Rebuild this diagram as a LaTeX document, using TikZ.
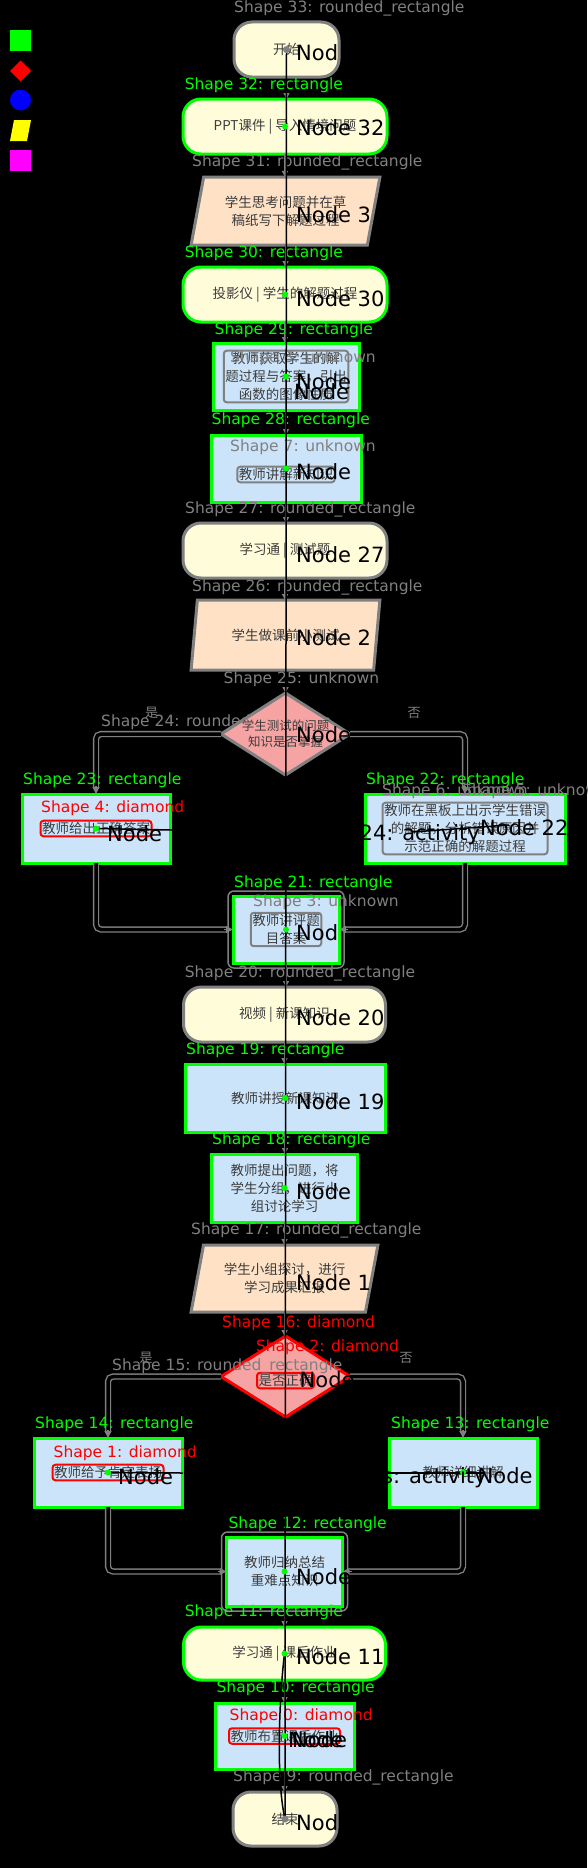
\documentclass[tikz,border=0pt]{standalone}
\usepackage{fontspec}
\setmainfont{DejaVu Sans}
\newfontfamily\cjk{Noto Sans CJK SC}
\usetikzlibrary{shapes.geometric,arrows.meta}
\definecolor{cream}{HTML}{FFFCDA}
\definecolor{lblue}{HTML}{CCE4FA}
\definecolor{peach}{HTML}{FFE2C6}
\definecolor{pinkf}{HTML}{F5A3A3}
\definecolor{lgreen}{HTML}{00FF00}
\definecolor{lred}{HTML}{FF0000}
\definecolor{lgray}{HTML}{808080}
\definecolor{txt}{HTML}{3C3C3C}
\definecolor{lblueb}{HTML}{0000FF}
\definecolor{lyel}{HTML}{FFFF00}
\definecolor{lmag}{HTML}{FF00FF}
\tikzset{
  base/.style={inner sep=0pt, outer sep=0pt, line width=3pt, font=\cjk\fontsize{13.5}{18}\selectfont, text=txt, align=center},
  rrg/.style={base, rectangle, rounded corners=18pt, fill=cream, draw=lgray},
  rrgreen/.style={base, rectangle, rounded corners=18pt, fill=cream, draw=lgreen},
  bx/.style={base, rectangle, fill=lblue, draw=lgreen},
  para/.style={base, trapezium, trapezium left angle=73, trapezium right angle=107, trapezium stretches=true, fill=peach, draw=lgray},
  dia/.style={base, diamond, fill=pinkf, draw=lgray},
  ttext/.style={base, draw=none, fill=none},
  redbox/.style={ttext, draw=lred, line width=2pt, rounded corners=3pt, inner sep=1.5pt},
  graybox/.style={ttext, draw=lgray, line width=2pt, rounded corners=3pt, inner sep=1.5pt},
  lab/.style={font=\fontsize{15.5}{16}\selectfont, anchor=west, inner sep=0pt},
  glab/.style={lab, text=lgray},
  gnlab/.style={lab, text=lgreen},
  rlab/.style={lab, text=lred},
  nlab/.style={font=\fontsize{21}{21}\selectfont, text=black, anchor=west, inner sep=0pt},
  yn/.style={font=\cjk\fontsize{13}{13}\selectfont, text=lgray, inner sep=0pt},
  flow/.style={draw=lgray, line width=1.5pt, -{Triangle[length=6pt,width=6pt]}},
  branch/.style={draw=lgray, double=black, double distance=3.5pt, line width=1.4pt, rounded corners=5pt, shorten >=7pt},
  tipar/.style={draw=lgray, line width=1.5pt, -{Triangle[length=7pt,width=7pt]}},
  blk/.style={draw=black, line width=1.5pt},
}
\begin{document}
\begin{tikzpicture}[x=1pt,y=-1pt]
\fill[black] (0,0) rectangle (587,1868);
\useasboundingbox (0,0) rectangle (587,1868);
% legend
\fill[lgreen] (10,30) rectangle (31,51);
\fill[lred] (20.5,60.5) -- (31,71) -- (20.5,81.5) -- (10,71) -- cycle;
\fill[lblueb] (20.5,100) circle (10.5pt);
\fill[lyel] (14,120) -- (31,120) -- (27,141) -- (10,141) -- cycle;
\fill[lmag] (10,150) rectangle (31,171);

% nodes
\node[rrg, minimum width=105pt, minimum height=55pt] (n33) at (286.5,49.5) {开始};
\node[rrgreen, minimum width=204pt, minimum height=55pt] (n32) at (285,126.5) {PPT课件 | 导入情境问题};
\node[para, minimum width=189pt, minimum height=68pt] (n31) at (285.5,211) {学生思考问题并在草\\稿纸写下解题过程};
\node[rrgreen, minimum width=204pt, minimum height=55pt] (n30) at (285,294.5) {投影仪 | 学生的解题过程};
\node[bx, minimum width=146pt, minimum height=67pt] (n29) at (286,376.5) {};
\node[bx, minimum width=150pt, minimum height=67pt] (n28) at (286,468.5) {};
\node[rrg, minimum width=204pt, minimum height=55pt] (n27) at (285,550.5) {学习通 | 测试题};
\node[para, minimum width=189pt, minimum height=70pt] (n26) at (285.5,635) {学生做课前小测试};
\node[glab] (l24) at (101,722) {Shape 24: rounded\_rectangle};
\node[dia, minimum width=129pt, minimum height=82pt] (n25) at (285.5,734) {};
\node[bx, minimum width=148pt, minimum height=69pt] (n23) at (96,828.5) {};
\node[bx, minimum width=200pt, minimum height=69pt] (n22) at (465,828.5) {};
\node[bx, minimum width=106pt, minimum height=67pt] (n21) at (286,929.5) {};
\node[rrg, minimum width=202pt, minimum height=55pt] (n20) at (284.5,1014.5) {视频 | 新课知识};
\node[bx, minimum width=200pt, minimum height=68pt] (n19) at (285,1098) {教师讲授新课知识};
\node[bx, minimum width=146pt, minimum height=68pt] (n18) at (284.5,1188) {教师提出问题，将\\学生分组，进行小\\组讨论学习};
\node[para, minimum width=187pt, minimum height=67pt] (n17) at (284.5,1278.5) {学生小组探讨，进行\\学习成果汇报};
\node[dia, draw=lred, minimum width=129pt, minimum height=81pt] (n16) at (285.5,1376.5) {};
\node[bx, minimum width=148pt, minimum height=69pt] (n14) at (108,1472.5) {};
\node[bx, minimum width=148pt, minimum height=69pt] (n13) at (463,1472.5) {教师详细讲解};
\node[bx, minimum width=116pt, minimum height=69pt] (n12) at (284.5,1571.5) {教师归纳总结\\重难点知识};
\node[rrgreen, minimum width=202pt, minimum height=53pt] (n11) at (284.5,1653.5) {学习通 | 课后作业};
\node[bx, minimum width=139pt, minimum height=66pt] (n10) at (284.5,1736) {};
\node[rrg, minimum width=104pt, minimum height=54pt] (n9) at (285,1819) {结束};

% extra outlines
\draw[lgray, line width=1.5pt, rounded corners=6pt] ([shift={(-5pt,-5pt)}]n21.south west) rectangle ([shift={(5pt,5pt)}]n21.north east);
\draw[lgray, line width=1.5pt, rounded corners=6pt] ([shift={(-5pt,-5pt)}]n12.south west) rectangle ([shift={(5pt,5pt)}]n12.north east);

% text overlays
\node[graybox] (t29) at (n29.center) {教师获取学生的解\\题过程与答案，引出\\函数的图像性质};
\node[graybox] (t28) at ([yshift=-6pt]n28.center) {教师讲解新知识};
\node[ttext, font=\cjk\fontsize{12.5}{16}\selectfont] (t25) at (n25.center) {学生测试的问题\\知识是否掌握};
\node[redbox] (t23) at (n23.center) {教师给出正确答案};
\node[graybox] (t22) at (n22.center) {教师在黑板上出示学生错误\\的解题，分析错误原因并\\示范正确的解题过程};
\node[graybox] (t21) at (n21.center) {教师讲评题\\目答案};
\node[redbox] (t16) at ([yshift=-4pt]n16.center) {是否正确};
\node[redbox] (t14) at (n14.center) {教师给予肯定表扬};
\node[redbox] (t10) at (n10.center) {教师布置课后作业};

% vertical flow
\draw[flow] (n33.south) -- (n33.south |- n32.north);
\draw[flow] (n32.south) -- (n32.south |- n31.north);
\draw[flow] (n31.south) -- (n31.south |- n30.north);
\draw[flow] (n30.south) -- (n30.south |- n29.north);
\draw[flow] (n29.south) -- (n29.south |- n28.north);
\draw[flow] (n28.south) -- (n28.south |- n27.north);
\draw[flow] (n27.south) -- (n27.south |- n26.north);
\draw[flow] (n26.south) -- (n26.south |- n25.north);
\draw[flow] (n21.south) -- (n21.south |- n20.north);
\draw[flow] (n20.south) -- (n20.south |- n19.north);
\draw[flow] (n19.south) -- (n19.south |- n18.north);
\draw[flow] (n18.south) -- (n18.south |- n17.north);
\draw[flow] (n17.south) -- (n17.south |- n16.north);
\draw[flow] (n12.south) -- (n12.south |- n11.north);
\draw[flow] (n11.south) -- (n11.south |- n10.north);
\draw[flow] (n10.south) -- (n10.south |- n9.north);

% branches
\draw[branch] (n25.west) -| (n23.north);
\draw[tipar] ([yshift=8pt]n23.north) -- (n23.north);
\draw[branch] (n25.east) -| (n22.north);
\draw[tipar] ([yshift=8pt]n22.north) -- (n22.north);
\draw[branch] (n23.south) |- (n21.west);
\draw[tipar] ([xshift=-9pt]n21.west) -- (n21.west);
\draw[branch] (n22.south) |- (n21.east);
\draw[tipar] ([xshift=9pt]n21.east) -- (n21.east);
\draw[branch] (n16.west) -| (n14.north);
\draw[tipar] ([yshift=8pt]n14.north) -- (n14.north);
\draw[branch] (n16.east) -| (n13.north);
\draw[tipar] ([yshift=8pt]n13.north) -- (n13.north);
\draw[branch] (n14.south) |- (n12.west);
\draw[tipar] ([xshift=-9pt]n12.west) -- (n12.west);
\draw[branch] (n13.south) |- (n12.east);
\draw[tipar] ([xshift=9pt]n12.east) -- (n12.east);

\node[yn] (y1) at (151.7,713) {是};
\node[yn] (f1) at (414,713) {否};
\node[yn] (y2) at (146,1358) {是};
\node[yn] (f2) at (406,1358) {否};

% shape labels
\node[glab] (l33) at (234,8) {Shape 33: rounded\_rectangle};
\node[gnlab] (l32) at (184.6,85) {Shape 32: rectangle};
\node[glab] (l31) at (192,162) {Shape 31: rounded\_rectangle};
\node[gnlab] (l30) at (184.6,253) {Shape 30: rectangle};
\node[gnlab] (l29) at (214.5,330) {Shape 29: rectangle};
\node[glab] (l8) at (230,358) {Shape 8: unknown};
\node[gnlab] (l28) at (211.5,420) {Shape 28: rectangle};
\node[glab] (l7) at (230,447) {Shape 7: unknown};
\node[glab] (l27) at (185,509) {Shape 27: rounded\_rectangle};
\node[glab] (l26) at (192,587) {Shape 26: rounded\_rectangle};
\node[glab] (l25) at (223.5,679) {Shape 25: unknown};
\node[gnlab] (l23) at (23,780) {Shape 23: rectangle};
\node[gnlab] (l22) at (366,780) {Shape 22: rectangle};
\node[glab] (l6) at (382,791) {Shape 6: unknown};
\node[glab] (l5) at (462,791) {Shape 5: unknown};
\node[rlab] (l4) at (41,808) {Shape 4: diamond};
\node[gnlab] (l21) at (234,883) {Shape 21: rectangle};
\node[glab] (l3) at (253,902) {Shape 3: unknown};
\node[glab] (l20) at (184.6,973) {Shape 20: rounded\_rectangle};
\node[gnlab] (l19) at (186,1050) {Shape 19: rectangle};
\node[gnlab] (l18) at (212,1140) {Shape 18: rectangle};
\node[glab] (l17) at (191,1230) {Shape 17: rounded\_rectangle};
\node[rlab] (l16) at (222,1323) {Shape 16: diamond};
\node[rlab] (l2) at (255.8,1347) {Shape 2: diamond};
\node[glab] (l15) at (112,1366) {Shape 15: rounded\_rectangle};
\node[gnlab] (l14) at (35,1424) {Shape 14: rectangle};
\node[gnlab] (l13) at (391,1424) {Shape 13: rectangle};
\node[rlab] (l1) at (53.5,1453) {Shape 1: diamond};
\node[gnlab] (l12) at (228.4,1524) {Shape 12: rectangle};
\node[gnlab] (l11) at (184.6,1612) {Shape 11: rectangle};
\node[gnlab] (l10) at (216.4,1688) {Shape 10: rectangle};
\node[rlab] (l0) at (229.5,1716) {Shape 0: diamond};
\node[glab] (l9) at (233,1777) {Shape 9: rounded\_rectangle};

% black overlay lines
\draw[blk] (n33.center) -- (n9.center);
\draw[blk] (n11.center) .. controls (279,1700) and (276,1780) .. (n9.center);
\coordinate (c23) at (172,830);
\draw[blk] (n23.center) -- (c23);
\coordinate (c22a) at (412,832);
\coordinate (c22b) at (509,825);
\draw[blk] (c22a) -- (c22b);
\coordinate (c14) at (183,1473);
\draw[blk] (n14.center) -- (c14);
\coordinate (c13a) at (385.6,1473);
\coordinate (c13b) at (483,1473);
\draw[blk] (c13a) -- (c13b);

% center dots
\foreach \n in {n32,n30,n29,n28,n23,n21,n19,n18,n14,n13,n12,n11,n10}
  \fill[lgreen] (\n.center) circle (3pt);
\fill[lgray] (n33.center) circle (3.5pt);
\fill[lgray] (n9.center) circle (3.5pt);

% node number labels
\node[nlab] (k33) at (296,53) {Nod};
\node[nlab] (k32) at (296,128) {Node 32};
\node[nlab] (k31) at (296,215) {Node 3};
\node[nlab] (k30) at (296,299) {Node 30};
\node[nlab] (k29a) at (296,382) {Node};
\node[nlab] (k29b) at (294,392) {Node};
\node[nlab] (k28) at (296,472) {Node};
\node[nlab] (k27) at (296,555) {Node 27};
\node[nlab] (k26) at (296,638) {Node 2};
\node[nlab] (k25) at (296,735) {Node};
\node[nlab] (k23) at (107,834) {Node};
\node[nlab] (k24) at (359.5,835) {24: activity};
\node[nlab] (k22) at (480,828) {Node 22};
\node[nlab] (k21) at (296,933) {Nod};
\node[nlab] (k20) at (296,1018) {Node 20};
\node[nlab] (k19) at (296,1102) {Node 19};
\node[nlab] (k18) at (296,1192) {Node};
\node[nlab] (k17) at (296,1283) {Node 1};
\node[nlab] (k16) at (299.5,1380) {Node};
\node[nlab] (k14) at (118,1477) {Node};
\node[nlab] (ks) at (382,1478) {s: activity};
\node[nlab] (k13) at (477.5,1476) {Node};
\node[nlab] (k12) at (296,1577) {Node};
\node[nlab] (k11) at (296,1657) {Node 11};
\node[nlab] (k10a) at (288,1740) {Node};
\node[nlab] (k10b) at (292,1740) {Node};
\node[nlab] (k9) at (296,1823) {Nod};
\end{tikzpicture}
\end{document}
